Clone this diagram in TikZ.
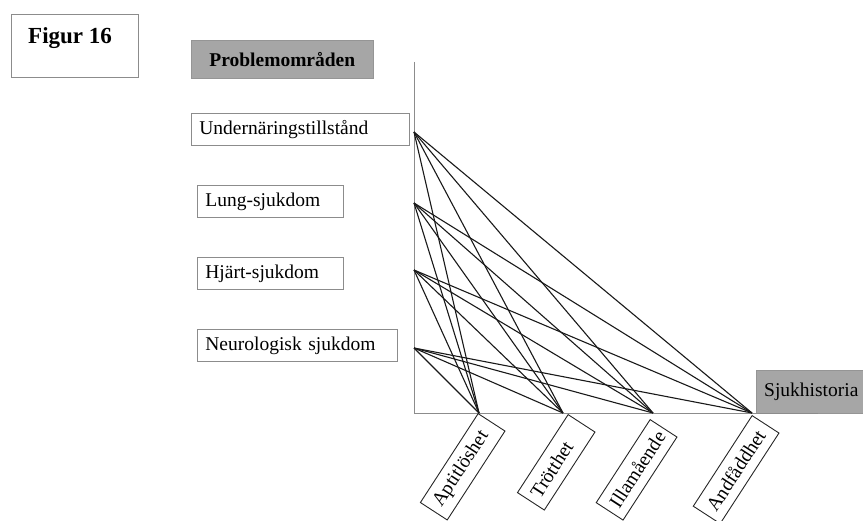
\documentclass[tikz,border=0pt]{standalone}
\usepackage{fontspec}
\setmainfont{Liberation Serif}
\definecolor{boxgray}{gray}{0.55}
\definecolor{fillgray}{gray}{0.65}
\newcommand{\txt}{\fontsize{19.5}{23}\selectfont}
\newcommand{\bigtxt}{\fontsize{23}{27}\selectfont\bfseries}
\begin{document}
\begin{tikzpicture}[x=1pt,y=-1pt,
  lbox/.style={draw=boxgray, line width=0.8pt, anchor=north west,
    minimum height=32pt, inner xsep=8pt, inner ysep=0pt, align=left, font=\txt},
  gbox/.style={fill=fillgray, draw=fillgray!90!black, line width=0.6pt,
    inner sep=0pt, font=\txt},
  rbox/.style={draw=black!85, line width=0.9pt, rotate=57, anchor=north east,
    minimum height=32pt, inner xsep=7pt, inner ysep=0pt, align=left, font=\txt},
  link/.style={draw=black!90, line width=1.1pt},
  axis/.style={draw=boxgray, line width=0.9pt}]
\useasboundingbox (0,0) rectangle (863,521);

% title box
\node[draw=boxgray, line width=0.9pt, minimum width=127pt, minimum height=63pt,
  anchor=north west, inner sep=0pt] (figbox) at (11,14) {};
\node[font=\bigtxt, anchor=base west, inner sep=0pt] (figtxt) at (28,44) {Figur 16};

% header boxes
\node[gbox, minimum width=182pt, minimum height=38pt, anchor=north west] (prob) at (191,40)
  {\bfseries Problemområden};
\node[gbox, minimum width=110pt, minimum height=43pt, anchor=north west] (hist) at (756,370)
  {Sjukhistoria};

% axes
\coordinate (origin) at (414,413);
\coordinate (ytop) at (414,62);
\coordinate (xend) at (818,413);
\draw[axis] (ytop) -- (origin) -- (xend);

% problem areas
\node[lbox, text width=202pt] (und) at (191,113) {Undernäringstillstånd};
\node[lbox, text width=130pt] (lung) at (197,185) {Lung-sjukdom};
\node[lbox, text width=130pt] (hjart) at (197,257) {Hjärt-sjukdom};
\node[lbox, text width=184pt] (neuro) at (197,329) {Neurologisk sjukdom};

% symptoms
\node[rbox, text width=92pt] (apt) at (478,413) {Aptitlöshet};
\node[rbox, text width=79pt] (trot) at (568,414) {Trötthet};
\node[rbox, text width=85pt] (illa) at (650,419) {Illamående};
\node[rbox, text width=94pt] (andf) at (752,415) {Andfåddhet};

% connection points on the axes
\coordinate (p1) at (414,132);
\coordinate (p2) at (414,203);
\coordinate (p3) at (414,270);
\coordinate (p4) at (414,348);
\coordinate (q1) at (479,413);
\coordinate (q2) at (563,413);
\coordinate (q3) at (653,413);
\coordinate (q4) at (752,413);

% every problem area linked to every symptom
\foreach \p in {p1,p2,p3,p4}{
  \foreach \q in {q1,q2,q3,q4}{
    \draw[link] (\p) -- (\q);
  }
}
\end{tikzpicture}
\end{document}
